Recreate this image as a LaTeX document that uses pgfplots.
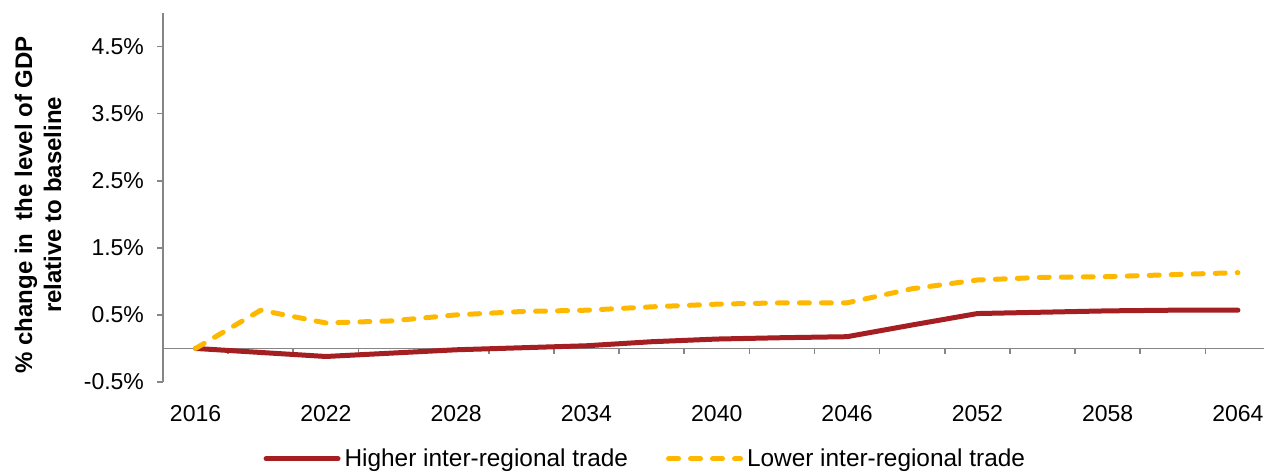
\documentclass[border=0pt]{standalone}
\usepackage{pgfplots}
\pgfplotsset{compat=1.18}
\usepackage{fontspec}
\setmainfont{Liberation Sans}
\definecolor{redline}{RGB}{165,30,34}
\definecolor{yelline}{RGB}{255,184,0}
\definecolor{axgray}{RGB}{134,134,134}
\begin{document}
\begin{tikzpicture}
\begin{axis}[
  scale only axis, width=550.5pt, height=184.5pt,
  xmin=2014.5, xmax=2065.2, ymin=-0.5, ymax=5,
  axis y line*=left, axis x line*=bottom,
  x axis line style={draw=none},
  y axis line style={axgray, line width=0.8pt},
  xtick={2016,2022,2028,2034,2040,2046,2052,2058,2064},
  xticklabels={2016,2022,2028,2034,2040,2046,2052,2058,2064},
  xtick style={draw=none},
  x tick label style={font=\fontsize{11.5}{13}\selectfont, yshift=-5pt},
  ytick={-0.5,0.5,1.5,2.5,3.5,4.5},
  yticklabels={-0.5\%,0.5\%,1.5\%,2.5\%,3.5\%,4.5\%},
  ytick style={axgray, line width=0.8pt},
  y tick label style={font=\fontsize{11.5}{13}\selectfont, xshift=-3pt},
  tick align=outside, major tick length=3pt,
  every axis y label/.style={at={(axis description cs:-0.1135,0.48)}, rotate=90, anchor=center, align=center, font=\bfseries\fontsize{12}{14.5}\selectfont},
  ylabel={\% change in \ the level of GDP\\relative to baseline},
  clip=false,
  legend style={at={(axis description cs:0.439,-0.208)}, anchor=center, draw=none, fill=none,
    font=\fontsize{12.2}{14}\selectfont,
    /tikz/every even column/.append style={column sep=17pt}},
  legend columns=2,
  legend image code/.code={\draw[#1] (0pt,0pt) -- (36pt,0pt);},
]
\draw[axgray, line width=0.8pt] (axis cs:2014.5,0) -- (axis cs:2065.2,0);
\pgfplotsinvokeforeach{2017.5,2020.5,2023.5,2026.5,2029.5,2032.5,2035.5,2038.5,2041.5,2044.5,2047.5,2050.5,2053.5,2056.5,2059.5,2062.5}{
  \draw[axgray, line width=0.8pt] (axis cs:#1,0) -- ++(0pt,-3pt);
}
\addplot[redline, line width=2.5pt, line cap=round, line join=round] coordinates {
(2016,0) (2019,-0.06) (2022,-0.12) (2025,-0.07) (2028,-0.02) (2031,0.01) (2034,0.04)
(2037,0.10) (2040,0.14) (2043,0.16) (2046,0.175) (2049,0.35) (2052,0.52) (2055,0.54)
(2058,0.56) (2061,0.57) (2064,0.57)};
\addlegendentry{Higher inter-regional trade}
\addplot[yelline, line width=2.5pt, line cap=round, line join=round, dash pattern=on 5pt off 6pt] coordinates {
(2016,0) (2019,0.57) (2022,0.38) (2025,0.41) (2028,0.50) (2031,0.55) (2034,0.57)
(2037,0.62) (2040,0.66) (2043,0.68) (2046,0.68) (2049,0.89) (2052,1.02) (2055,1.06)
(2058,1.07) (2061,1.10) (2064,1.13)};
\addlegendentry{Lower inter-regional trade}
\end{axis}
\pgfresetboundingbox
\path[use as bounding box] ([shift={(-81.5pt,6.5pt)}]current axis.north west) rectangle ([shift={(0pt,-45.5pt)}]current axis.south east);
\end{tikzpicture}
\end{document}
